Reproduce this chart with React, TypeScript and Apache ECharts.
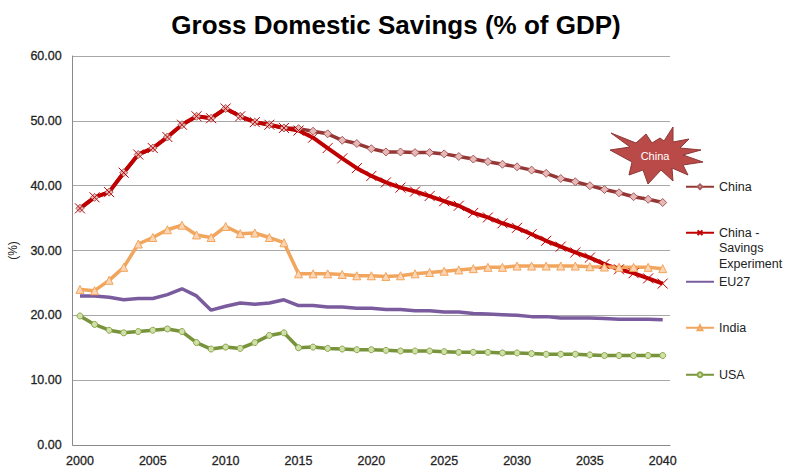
import React, { useEffect, useRef } from "react";
import * as echarts from "echarts";

const years = Array.from({ length: 41 }, (_, i) => String(2000 + i));

const china = [
  36.5, 38.2, 39.0, 42.0, 44.8, 45.8, 47.5, 49.4, 50.7, 50.4, 51.9, 50.7, 49.8, 49.4, 48.9,
  48.8, 48.4, 48.0, 47.0, 46.5, 45.7, 45.2, 45.2, 45.1, 45.1, 44.9, 44.5, 44.1, 43.7, 43.3,
  42.9, 42.4, 41.9, 41.1, 40.6, 40.0, 39.4, 38.9, 38.3, 37.9, 37.4,
];
const savingsExperiment = [
  36.5, 38.2, 39.0, 42.0, 44.8, 45.8, 47.5, 49.4, 50.7, 50.4, 51.9, 50.7, 49.8, 49.4, 48.9,
  48.5, 47.4, 45.8, 44.2, 42.7, 41.5, 40.5, 39.7, 39.1, 38.4, 37.6, 36.9, 35.8, 35.1, 34.2,
  33.5, 32.5, 31.5, 30.6, 29.7, 28.9, 27.9, 27.1, 26.5, 25.7, 24.9,
];
const eu27 = [
  23.0, 23.0, 22.8, 22.4, 22.6, 22.6, 23.2, 24.1, 23.0, 20.8, 21.4, 21.9, 21.7, 21.9, 22.4,
  21.5, 21.5, 21.3, 21.3, 21.1, 21.1, 20.9, 20.9, 20.7, 20.7, 20.5, 20.5, 20.3, 20.2, 20.1,
  20.0, 19.8, 19.8, 19.6, 19.6, 19.6, 19.5, 19.4, 19.4, 19.4, 19.3,
];
const india = [
  24.0, 23.8, 25.4, 27.4, 31.0, 32.0, 33.2, 33.9, 32.4, 32.0, 33.7, 32.6, 32.7, 32.0, 31.2,
  26.4, 26.4, 26.4, 26.3, 26.1, 26.1, 26.0, 26.1, 26.4, 26.6, 26.8, 27.0, 27.2, 27.4, 27.4,
  27.6, 27.6, 27.6, 27.6, 27.6, 27.5, 27.45, 27.4, 27.4, 27.4, 27.2,
];
const usa = [
  19.9, 18.6, 17.7, 17.3, 17.5, 17.7, 17.9, 17.5, 15.8, 14.8, 15.1, 14.9, 15.8, 16.9, 17.3,
  15.0, 15.1, 14.9, 14.8, 14.7, 14.7, 14.6, 14.5, 14.5, 14.5, 14.4, 14.3, 14.3, 14.3, 14.2,
  14.2, 14.1, 14.0, 14.0, 14.0, 13.9, 13.8, 13.8, 13.8, 13.8, 13.8,
];

const FONT = "'Liberation Sans', Arial, sans-serif";
const CROSS = "path://M0 0L10 10M10 0L0 10";

// Axis numbers are set slightly heavier than the regular face.
const axisText = {
  fontFamily: FONT,
  fontSize: 12.5,
  color: "#222",
  textBorderColor: "#333",
  textBorderWidth: 0.3,
};

// Outline of the burst callout, clockwise from its upper-left spike.
const burst = [
  [611, 133], [636, 143], [646, 134], [652, 143], [660, 138], [664, 141], [673, 127], [673, 142],
  [689, 139], [680, 148], [701, 150], [683, 155], [703, 162], [683, 165], [688, 175], [672, 168],
  [673, 181], [661, 170], [648, 184], [643, 170], [629, 175], [632, 162], [610, 150], [630, 147],
];

function legendAt(name: string, top: number, label?: string, itemStyle?: object) {
  return {
    show: true,
    left: 685,
    top,
    padding: 0,
    itemWidth: 28,
    itemHeight: 6,
    data: [itemStyle ? { name, itemStyle } : name],
    formatter: label ?? "{name}",
    textStyle: { fontFamily: FONT, fontSize: 12.5, color: "#222", lineHeight: 15.5 },
  };
}

export default function App() {
  const ref = useRef<HTMLDivElement>(null);

  useEffect(() => {
    const chart = echarts.init(ref.current!, undefined, { renderer: "svg" });
    chart.setOption({
      animation: false,
      backgroundColor: "#fff",
      title: {
        text: "Gross Domestic Savings (% of GDP)",
        left: 391,
        top: 7,
        textAlign: "center",
        textStyle: { fontFamily: FONT, fontSize: 26, fontWeight: "bold", color: "#000" },
      },
      grid: { left: 72.7, top: 56, width: 597.3, height: 389, outerBoundsMode: "none" },
      legend: [
        legendAt("China", 179),
        legendAt("China - Savings Experiment", 194, "\n\nChina -\nSavings\nExperiment"),
        legendAt("EU27", 274, undefined, { color: "transparent", borderWidth: 0 }),
        legendAt("India", 320),
        legendAt("USA", 367),
      ],
      xAxis: {
        type: "category",
        data: years,
        axisTick: { show: false },
        axisLine: { lineStyle: { color: "#8a8a8a", width: 1 } },
        axisLabel: { ...axisText, interval: 4, margin: 9, showMaxLabel: true },
      },
      yAxis: {
        type: "value",
        min: 0,
        max: 60,
        interval: 10,
        name: "(%)",
        nameLocation: "middle",
        nameGap: 50,
        nameRotate: 90,
        nameTextStyle: { fontFamily: FONT, fontSize: 12, color: "#222" },
        axisLine: { show: true, lineStyle: { color: "#8a8a8a", width: 1 } },
        axisTick: { show: false },
        splitLine: { lineStyle: { color: "#a8a8a8", width: 1 } },
        axisLabel: { ...axisText, margin: 11, formatter: (v: number) => v.toFixed(2) },
      },
      series: [
        {
          name: "China",
          type: "line",
          data: china,
          showAllSymbol: true,
          symbol: "diamond",
          symbolSize: 8,
          lineStyle: { color: "#953735", width: 3.5 },
          itemStyle: { color: "#e6b9b8", borderColor: "#a65c5a", borderWidth: 1 },
        },
        {
          name: "China - Savings Experiment",
          type: "line",
          data: savingsExperiment,
          showAllSymbol: true,
          symbol: CROSS,
          symbolSize: 10,
          lineStyle: { color: "#c00000", width: 4 },
          itemStyle: { color: "none", borderColor: "#c00000", borderWidth: 1 },
        },
        {
          name: "EU27",
          type: "line",
          data: eu27,
          symbol: "none",
          lineStyle: { color: "#7a5c9e", width: 3.5 },
          itemStyle: { color: "#7a5c9e" },
        },
        {
          name: "India",
          type: "line",
          data: india,
          showAllSymbol: true,
          symbol: "triangle",
          symbolSize: 8,
          lineStyle: { color: "#f2a55c", width: 3.5 },
          itemStyle: { color: "#fcd5b4", borderColor: "#f2a55c", borderWidth: 1 },
        },
        {
          name: "USA",
          type: "line",
          data: usa,
          showAllSymbol: true,
          symbol: "circle",
          symbolSize: 6,
          lineStyle: { color: "#77933c", width: 3.5 },
          itemStyle: { color: "#d1e0a8", borderColor: "#8aa64a", borderWidth: 1 },
        },
      ],
      graphic: [
        {
          type: "polygon",
          z: 10,
          shape: { points: burst },
          style: { fill: "#b94a48", stroke: "#8c3836", lineWidth: 1 },
        },
        {
          type: "text",
          z: 11,
          x: 655,
          y: 156,
          style: {
            text: "China",
            fill: "#fff",
            fontFamily: FONT,
            fontSize: 11,
            align: "center",
            verticalAlign: "middle",
          },
        },
      ],
    });
    return () => chart.dispose();
  }, []);

  return <div ref={ref} style={{ position: "absolute", left: 0, top: 0, width: 786, height: 466 }} />;
}
